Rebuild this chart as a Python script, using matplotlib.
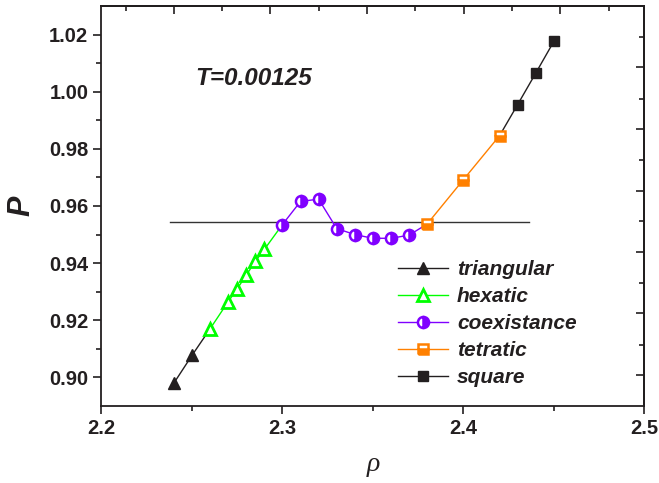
import matplotlib
matplotlib.use("Agg")
import matplotlib.pyplot as plt
import numpy as np
from matplotlib.lines import Line2D

# data
tri_x = [2.24, 2.25]
tri_y = [0.898, 0.9077]
hex_x = [2.26, 2.27, 2.275, 2.28, 2.285, 2.29]
hex_y = [0.917, 0.9265, 0.931, 0.9358, 0.9406, 0.9448]
coex_x = [2.30, 2.31, 2.32, 2.33, 2.34, 2.35, 2.36, 2.37]
coex_y = [0.9535, 0.9616, 0.9624, 0.9521, 0.9500, 0.9487, 0.9487, 0.9498]
tet_x = [2.38, 2.40, 2.42]
tet_y = [0.9537, 0.9692, 0.9846]
sq_x = [2.43, 2.44, 2.45]
sq_y = [0.9955, 1.0065, 1.0176]
p_coex = 0.9544
hline_x = [2.238, 2.436]
labels = ["triangular", "hexatic", "coexistance", "tetratic", "square"]

ink = "#231f20"
green = "#00ff00"
purple = "#8000ff"
orange = "#ff8000"

plt.rcParams['font.family'] = ['Liberation Sans', 'DejaVu Sans']

fig = plt.figure(figsize=(6.59, 4.83), dpi=100)
ax = fig.add_axes([0.154, 0.1594, 0.8237, 0.8282])

ax.plot(hline_x, [p_coex, p_coex], color="#333333", lw=1.0, zorder=1)

# connecting segments (each phase runs on to its neighbour point)
ax.plot(tri_x + hex_x[:1], tri_y + hex_y[:1], color=ink, lw=1.0, zorder=2)
ax.plot(hex_x + coex_x[:1], hex_y + coex_y[:1], color=green, lw=1.0, zorder=2)
ax.plot(coex_x + tet_x[:1], coex_y + tet_y[:1], color=purple, lw=1.0, zorder=2)
ax.plot(tet_x, tet_y, color=orange, lw=1.0, zorder=2)
ax.plot(tet_x[-1:] + sq_x, tet_y[-1:] + sq_y, color=ink, lw=1.0, zorder=2)

h1, = ax.plot(tri_x, tri_y, color=ink, lw=1.0, marker="^", ms=9,
              mfc=ink, mec=ink, ls="none", zorder=3)
h2, = ax.plot(hex_x, hex_y, color=green, lw=1.0, marker="^", ms=9,
              mfc="white", mec=green, mew=2.0, ls="none", zorder=3)
h3, = ax.plot(coex_x, coex_y, color=purple, lw=1.0, marker="o", ms=8,
              fillstyle="right", mfc=purple, mfcalt="white", mec=purple,
              mew=1.8, ls="none", zorder=3)
h4, = ax.plot(tet_x, tet_y, color=orange, lw=1.0, marker="s", ms=7,
              fillstyle="bottom", mfc=orange, mfcalt="white", mec=orange,
              mew=1.8, ls="none", zorder=4)
h5, = ax.plot(sq_x, sq_y, color=ink, lw=1.0, marker="s", ms=7,
              mfc=ink, mec=ink, ls="none", zorder=3)

# legend handles with line through marker
handles = []
for h in [h1, h2, h3, h4, h5]:
    lh = Line2D([], [], color=h.get_color(), lw=1.0, marker=h.get_marker(),
                ms=h.get_markersize(), mfc=h.get_markerfacecolor(),
                mfcalt=h.get_markerfacecoloralt(), fillstyle=h.get_fillstyle(),
                mec=h.get_markeredgecolor(), mew=h.get_markeredgewidth())
    handles.append(lh)
ax.legend(handles, labels, loc="lower left", bbox_to_anchor=(0.515, 0.006),
          frameon=False, handlelength=2.4, handletextpad=0.45, labelspacing=0.38,
          borderpad=0.3, prop={"family": "Liberation Sans", "weight": "bold",
                               "style": "italic", "size": 15})
for t in ax.get_legend().get_texts():
    t.set_color(ink)

ax.text(2.252, 1.0045, "T=0.00125", fontsize=17.5, fontweight="bold",
        fontstyle="italic", color=ink, va="center", ha="left")

ax.set_xlim(2.2, 2.5)
ax.set_ylim(0.89, 1.03)
ax.set_xticks([2.2, 2.3, 2.4, 2.5])
ax.set_xticks([2.25, 2.35, 2.45], minor=True)
ax.set_yticks(np.arange(0.90, 1.021, 0.02))
ax.set_yticks(np.arange(0.91, 1.03, 0.02), minor=True)
ax.set_yticklabels(["0.90", "0.92", "0.94", "0.96", "0.98", "1.00", "1.02"])
ax.tick_params(which="both", direction="out", width=1.2, color=ink,
               labelsize=14.5, labelcolor=ink)
ax.tick_params(which="major", length=6)
ax.tick_params(which="minor", length=3.5)
for lab in ax.get_xticklabels() + ax.get_yticklabels():
    lab.set_fontweight("bold")
for s in ax.spines.values():
    s.set_linewidth(1.3)
    s.set_color(ink)

# top / right axes carry their own offset tick marks
top = ax.secondary_xaxis("top")
top.set_xticks([2.2399, 2.2934, 2.3468, 2.4002, 2.4536])
top.set_xticks([2.2136, 2.2666, 2.3202, 2.3735, 2.4270, 2.4803], minor=True)
top.tick_params(which="both", direction="in", labeltop=False, width=1.2, color=ink)
top.tick_params(which="major", length=6)
top.tick_params(which="minor", length=3.5)
top.spines["top"].set_linewidth(1.3)
right = ax.secondary_yaxis("right")
right.set_yticks([0.9008, 0.9224, 0.9440, 0.9654, 0.9870, 1.0085])
right.set_yticks([0.9115, 0.9331, 0.9547, 0.9762, 0.9976, 1.0192], minor=True)
right.tick_params(which="both", direction="in", labelright=False, width=1.2, color=ink)
right.tick_params(which="major", length=6)
right.tick_params(which="minor", length=3.5)
right.spines["right"].set_linewidth(1.3)

ax.set_xlabel("ρ", fontsize=20, fontstyle="italic", family="Liberation Serif",
              color=ink, labelpad=10)
ax.set_ylabel("P", fontsize=22, fontweight="bold", fontstyle="italic",
              color=ink, labelpad=9)

fig.savefig("out.png", dpi=100)
